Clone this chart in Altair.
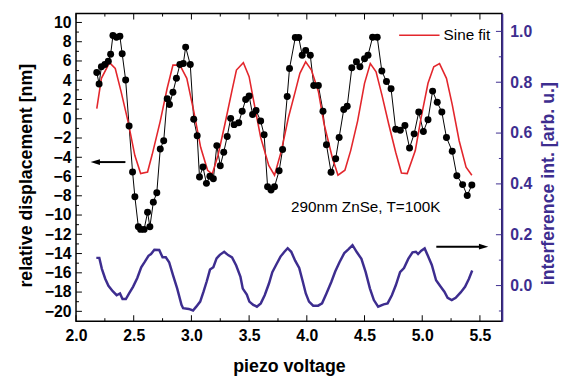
import altair as alt
import pandas as pd

# ---- data ----
disp_x = [2.18, 2.20, 2.22, 2.25, 2.28, 2.30, 2.32, 2.35, 2.38, 2.40,
          2.43, 2.46, 2.49, 2.51, 2.54, 2.56, 2.59, 2.62, 2.64, 2.67,
          2.70, 2.73, 2.76, 2.79, 2.81, 2.84, 2.87, 2.90, 2.93, 2.95,
          2.99, 3.02, 3.05, 3.07, 3.10, 3.13, 3.16, 3.19, 3.22, 3.25,
          3.28, 3.31, 3.34, 3.37, 3.41, 3.44, 3.47, 3.50, 3.53, 3.56,
          3.60, 3.63, 3.66, 3.69, 3.72, 3.76, 3.79, 3.83, 3.85, 3.90,
          3.93, 3.96, 3.99, 4.03, 4.06, 4.10, 4.14, 4.17, 4.21, 4.25,
          4.28, 4.32, 4.35, 4.39, 4.43, 4.46, 4.50, 4.53, 4.57, 4.61,
          4.65, 4.69, 4.73, 4.77, 4.81, 4.85, 4.89, 4.93, 4.97, 5.01,
          5.05, 5.09, 5.13, 5.17, 5.21, 5.26, 5.30, 5.35, 5.39, 5.43]
disp_y = [4.81, 3.62, 5.39, 5.63, 5.98, 6.69, 8.64, 8.46, 8.57, 6.76,
          4.03, -0.75, -5.53, -8.09, -11.22, -11.49, -11.49, -9.72, -11.22, -8.66,
          -7.68, -3.13, -2.28, 2.09, 1.47, 2.76, 4.20, 5.63, 5.73, 7.44,
          5.63, -0.06, -1.77, -6.04, -5.02, -6.71, -5.97, -6.24, -2.79, -4.87,
          -3.48, -1.84, 0.04, -0.61, -0.41, 0.79, 1.99, 2.37, 0.45, 0.86,
          -0.24, -1.67, -7.06, -7.40, -7.06, -5.40, -3.20, 2.32, 5.22, 8.43,
          8.43, 6.59, 7.10, 6.59, 3.45, 3.45, 0.79, -2.69, -5.56, -4.16,
          -1.94, 0.96, 1.30, 5.29, 5.91, 5.39, 6.24, 6.59, 8.46, 8.46,
          4.95, 3.86, 3.11, -1.08, -1.19, -0.70, -3.03, -1.57, 0.69, -1.33,
          -0.10, 2.87, 1.71, 0.69, -1.94, -3.38, -5.92, -6.84, -7.96, -6.89]

fit_x = [2.18, 2.22, 2.29, 2.34, 2.39, 2.45, 2.51, 2.56, 2.62, 2.66,
         2.73, 2.79, 2.84, 2.90, 2.96, 3.02, 3.08, 3.14, 3.18, 3.23,
         3.29, 3.35, 3.39, 3.45, 3.50, 3.54, 3.60, 3.67, 3.72, 3.78,
         3.84, 3.90, 3.94, 3.99, 4.04, 4.10, 4.15, 4.22, 4.27, 4.33,
         4.38, 4.44, 4.50, 4.55, 4.60, 4.65, 4.71, 4.77, 4.82, 4.87,
         4.94, 4.99, 5.05, 5.10, 5.15, 5.21, 5.26, 5.32, 5.38, 5.43]
fit_y = [1.06, 4.20, 5.83, 5.22, 2.84, -0.24, -3.82, -5.69, -5.53, -3.72,
         -0.24, 3.17, 5.57, 5.57, 4.20, 0.79, -2.97, -5.35, -5.76, -3.82,
         -0.57, 2.84, 5.06, 5.83, 4.37, 1.81, -1.94, -4.84, -5.86, -3.31,
         0.10, 2.84, 4.71, 5.91, 5.06, 2.84, -0.57, -3.99, -5.86, -5.35,
         -3.31, -0.24, 3.68, 5.73, 4.88, 2.50, -0.57, -3.48, -5.63, -5.69,
         -3.30, 0.10, 3.68, 5.39, 5.73, 4.20, 1.47, -2.28, -5.02, -5.86]

int_x = [2.176, 2.202, 2.224, 2.253, 2.281, 2.318, 2.352, 2.381, 2.403, 2.432,
         2.460, 2.494, 2.531, 2.565, 2.594, 2.628, 2.650, 2.679, 2.721, 2.750,
         2.778, 2.807, 2.841, 2.877, 2.914, 2.928, 2.977, 3.014, 3.042, 3.076,
         3.105, 3.133, 3.161, 3.190, 3.218, 3.246, 3.284, 3.318, 3.352, 3.388,
         3.425, 3.445, 3.480, 3.502, 3.536, 3.567, 3.601, 3.635, 3.672, 3.701,
         3.738, 3.772, 3.806, 3.834, 3.865, 3.899, 3.934, 3.962, 3.991, 4.019,
         4.055, 4.098, 4.132, 4.170, 4.212, 4.246, 4.283, 4.325, 4.362, 4.396,
         4.434, 4.473, 4.510, 4.547, 4.581, 4.618, 4.666, 4.700, 4.737, 4.771,
         4.808, 4.842, 4.879, 4.916, 4.945, 4.964, 4.992, 5.021, 5.049, 5.083,
         5.120, 5.154, 5.192, 5.220, 5.256, 5.290, 5.333, 5.371, 5.405, 5.433]
int_y = [0.109, 0.109, 0.066, 0.027, -0.001, -0.022, -0.038, -0.031, -0.053, -0.053,
         -0.031, -0.005, 0.030, 0.072, 0.092, 0.117, 0.124, 0.141, 0.140, 0.111,
         0.111, 0.092, 0.040, -0.012, -0.076, -0.089, -0.092, -0.098, -0.083, -0.063,
         -0.024, 0.017, 0.063, 0.072, 0.107, 0.121, 0.133, 0.120, 0.111, 0.079,
         0.034, -0.012, -0.035, -0.063, -0.076, -0.083, -0.070, -0.038, 0.008, 0.053,
         0.085, 0.114, 0.133, 0.147, 0.133, 0.098, 0.069, 0.021, -0.031, -0.063,
         -0.079, -0.079, -0.070, -0.031, 0.014, 0.055, 0.092, 0.128, 0.143, 0.159,
         0.131, 0.105, 0.053, -0.012, -0.057, -0.083, -0.074, -0.070, -0.038, 0.001,
         0.053, 0.069, 0.105, 0.131, 0.133, 0.124, 0.137, 0.146, 0.117, 0.081,
         0.021, -0.001, -0.024, -0.048, -0.057, -0.048, -0.027, -0.005, 0.027, 0.059]

# axis tick values
x_major = [2.0, 2.5, 3.0, 3.5, 4.0, 4.5, 5.0, 5.5]
x_minor = [2.25, 2.75, 3.25, 3.75, 4.25, 4.75, 5.25]
yl_major = [-20, -18, -16, -14, -12, -10, -8, -6, -4, -2, 0, 2, 4, 6, 8, 10]
yl_minor = [-19, -17, -15, -13, -11, -9, -7, -5, -3, -1, 1, 3, 5, 7, 9]
yr_major = [0.0, 0.2, 0.4, 0.6, 0.8, 1.0]
yr_minor = [-0.1, 0.1, 0.3, 0.5, 0.7, 0.9]

# annotations
legend_x = [4.80, 5.15]
legend_y = [8.67, 8.67]
legend_text = ["Sine fit"]
legend_text_x = [5.185]
note_text = ["290nm ZnSe, T=100K"]
note_x = [4.51]
note_y = [-9.14]
larrow_x = [2.167, 2.428]
larrow_y = [-4.5, -4.5]
rarrow_x = [5.122, 5.532]
rarrow_y = [0.153, 0.153]

# ---- styling ----
W, H = 432, 312
FONT = "Liberation Sans"
PURPLE = "#3d2d8f"
RED = "#e3262c"

xs = alt.Scale(domain=[2.0, 5.69], nice=False, zero=False)
yl = alt.Scale(domain=[-21.02, 10.92], nice=False, zero=False)
yr = alt.Scale(domain=[-0.14, 1.07], nice=False, zero=False)

x_axis = alt.Axis(values=x_major, format=".1f", title="piezo voltage", grid=False,
                  ticks=False, domain=False, labelPadding=7, labelFlush=False, labelOverlap=False,
                  labelFont=FONT, labelFontSize=16, labelFontWeight="bold", labelColor="black",
                  titleFont=FONT, titleFontSize=18, titleFontWeight="bold", titleColor="black",
                  titleY=46, titleBaseline="middle")
yl_axis = alt.Axis(orient="left", values=yl_major, format="d", title="relative displacement [nm]",
                   grid=False, ticks=False, domain=False, labelPadding=5, labelFlush=False,
                   labelOverlap=False,
                   labelFont=FONT, labelFontSize=16, labelFontWeight="bold", labelColor="black",
                   titleFont=FONT, titleFontSize=18, titleFontWeight="bold", titleColor="black",
                   titleX=-50, titleY=164, titleAngle=270, titleBaseline="middle", titleAlign="center")
yr_axis = alt.Axis(orient="right", values=yr_major, format=".1f", title="interference int. [arb. u.]",
                   grid=False, ticks=False, domain=True, domainColor=PURPLE, domainWidth=2,
                   labelPadding=8, labelFlush=False, labelOverlap=False,
                   labelFont=FONT, labelFontSize=16, labelFontWeight="bold",
                   labelColor=PURPLE, titleFont=FONT, titleFontSize=18, titleFontWeight="bold",
                   titleColor=PURPLE, titleX=47, titleY=172, titleAngle=270,
                   titleBaseline="middle", titleAlign="center")

df_disp = pd.DataFrame({"x": disp_x, "y": disp_y})
df_fit = pd.DataFrame({"x": fit_x, "y": fit_y})
df_int = pd.DataFrame({"x": int_x, "y": int_y})


def X():
    return alt.X("x:Q", scale=xs, axis=x_axis)


def YL(axis=None):
    return alt.Y("y:Q", scale=yl, axis=axis)


def YR(axis=None):
    return alt.Y("y:Q", scale=yr, axis=axis)


disp_line = alt.Chart(df_disp).mark_line(color="black", strokeWidth=1).encode(
    x=X(), y=YL(yl_axis))
disp_pts = alt.Chart(df_disp).mark_circle(color="black", size=50, opacity=1).encode(x=X(), y=YL())
fit_line = alt.Chart(df_fit).mark_line(color=RED, strokeWidth=1.6).encode(x=X(), y=YL())

leg_line = alt.Chart(pd.DataFrame({"x": legend_x, "y": legend_y})).mark_line(
    color=RED, strokeWidth=1.6).encode(x=X(), y=YL())
leg_txt = alt.Chart(pd.DataFrame({"x": legend_text_x, "y": legend_y[:1], "t": legend_text})).mark_text(
    align="left", baseline="middle", font=FONT, fontSize=15.5, color="black").encode(
    x=X(), y=YL(), text="t:N")
note = alt.Chart(pd.DataFrame({"x": note_x, "y": note_y, "t": note_text})).mark_text(
    align="center", baseline="middle", font=FONT, fontSize=15.5, color="black").encode(
    x=X(), y=YL(), text="t:N")

head_left = "M-1,0L1,-0.6L1,0.6Z"
head_right = "M1,0L-1,-0.6L-1,0.6Z"
larrow = alt.Chart(pd.DataFrame({"x": larrow_x, "y": larrow_y})).mark_line(
    color="black", strokeWidth=2).encode(x=X(), y=YL())
larrow_head = alt.Chart(pd.DataFrame({"x": larrow_x[:1], "y": larrow_y[:1]})).mark_point(
    shape=head_left, size=90, filled=True, color="black", opacity=1).encode(x=X(), y=YL())

lt_major = alt.Chart(pd.DataFrame({"y": yl_major})).mark_rule(color="black", strokeWidth=1).encode(
    y=YL(), x=alt.value(0), x2=alt.value(6))
lt_minor = alt.Chart(pd.DataFrame({"y": yl_minor})).mark_rule(color="black", strokeWidth=1).encode(
    y=YL(), x=alt.value(0), x2=alt.value(3))
bt_major = alt.Chart(pd.DataFrame({"x": x_major})).mark_rule(color="black", strokeWidth=1).encode(
    x=X(), y=alt.value(H), y2=alt.value(H - 6))
bt_minor = alt.Chart(pd.DataFrame({"x": x_minor})).mark_rule(color="black", strokeWidth=1).encode(
    x=X(), y=alt.value(H), y2=alt.value(H - 3))
tt_major = alt.Chart(pd.DataFrame({"x": x_major})).mark_rule(color="black", strokeWidth=1).encode(
    x=X(), y=alt.value(0), y2=alt.value(6))
tt_minor = alt.Chart(pd.DataFrame({"x": x_minor})).mark_rule(color="black", strokeWidth=1).encode(
    x=X(), y=alt.value(0), y2=alt.value(3))

int_line = alt.Chart(df_int).mark_line(color=PURPLE, strokeWidth=2.5).encode(x=X(), y=YR(yr_axis))
rarrow = alt.Chart(pd.DataFrame({"x": rarrow_x, "y": rarrow_y})).mark_line(
    color="black", strokeWidth=2).encode(x=X(), y=YR())
rarrow_head = alt.Chart(pd.DataFrame({"x": rarrow_x[1:], "y": rarrow_y[1:]})).mark_point(
    shape=head_right, size=90, filled=True, color="black", opacity=1).encode(x=X(), y=YR())
rt_major = alt.Chart(pd.DataFrame({"y": yr_major})).mark_rule(color=PURPLE, strokeWidth=1).encode(
    y=YR(), x=alt.value(W), x2=alt.value(W - 6))
rt_minor = alt.Chart(pd.DataFrame({"y": yr_minor})).mark_rule(color=PURPLE, strokeWidth=1).encode(
    y=YR(), x=alt.value(W), x2=alt.value(W - 3))

chart = alt.layer(
    disp_line, int_line,
    lt_major, lt_minor, bt_major, bt_minor, tt_major, tt_minor,
    fit_line, disp_pts, leg_line, leg_txt, note, larrow, larrow_head,
    rarrow, rarrow_head, rt_major, rt_minor,
).resolve_scale(y="independent").properties(
    width=W, height=H,
    padding={"left": 69, "top": 3, "right": 60, "bottom": 56},
    autosize=alt.AutoSizeParams(type="none"),
    background="white",
).configure_view(stroke="black", strokeWidth=1.5)

chart.save("out.html", embed_options={"renderer": "svg", "actions": False})
